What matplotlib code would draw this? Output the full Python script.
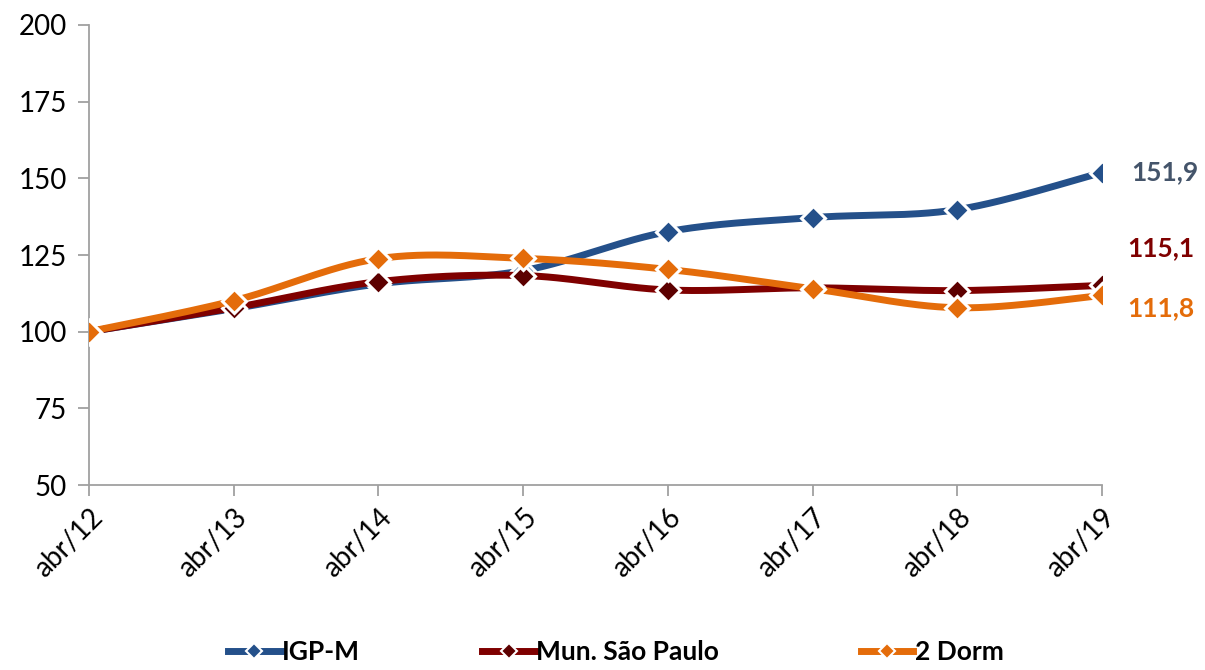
import numpy as np
import matplotlib
matplotlib.use("Agg")
import matplotlib.pyplot as plt
from matplotlib.lines import Line2D

categories = ["abr/12", "abr/13", "abr/14", "abr/15", "abr/16", "abr/17", "abr/18", "abr/19"]
igpm = [100.0, 107.5, 115.6, 119.9, 132.6, 137.2, 139.8, 151.9]
mun_sp = [100.0, 107.8, 116.3, 118.3, 113.6, 114.3, 113.4, 115.1]
dorm2 = [100.0, 110.1, 123.8, 123.9, 120.3, 114.0, 107.8, 111.8]
series_names = ["IGP-M", "Mun. São Paulo", "2 Dorm"]
end_labels = ["151,9", "115,1", "111,8"]

colors = ["#24508A", "#7F0000", "#E46C0A"]
marker_colors = ["#24508A", "#5C0000", "#E46C0A"]
label_colors = ["#44546A", "#7F0000", "#E46C0A"]
label_offsets = [(21, 0), (18, 27), (18, -9)]   # points offset of end labels
legend_x = [0.187, 0.398, 0.712]

plt.rcParams['font.family'] = ['Lato', 'DejaVu Sans']


def smooth(x, y, n=30):
    # Catmull-Rom style smoothing between data points (visual only)
    x = np.asarray(x, float)
    y = np.asarray(y, float)
    xs, ys = [], []
    for i in range(len(x) - 1):
        p0 = (x[i - 1], y[i - 1]) if i > 0 else (x[i], y[i])
        p1 = (x[i], y[i])
        p2 = (x[i + 1], y[i + 1])
        p3 = (x[i + 2], y[i + 2]) if i + 2 < len(x) else (x[i + 1], y[i + 1])
        t = 0.5 / 3.0
        c1 = (p1[0] + (p2[0] - p0[0]) * t, p1[1] + (p2[1] - p0[1]) * t)
        c2 = (p2[0] - (p3[0] - p1[0]) * t, p2[1] - (p3[1] - p1[1]) * t)
        tt = np.linspace(0, 1, n, endpoint=(i == len(x) - 2))
        bx = (1 - tt) ** 3 * p1[0] + 3 * (1 - tt) ** 2 * tt * c1[0] + 3 * (1 - tt) * tt ** 2 * c2[0] + tt ** 3 * p2[0]
        by = (1 - tt) ** 3 * p1[1] + 3 * (1 - tt) ** 2 * tt * c1[1] + 3 * (1 - tt) * tt ** 2 * c2[1] + tt ** 3 * p2[1]
        xs.extend(bx)
        ys.extend(by)
    return np.array(xs), np.array(ys)


fig = plt.figure(figsize=(12.05, 6.70), dpi=100)
ax = fig.add_axes([0.0739, 0.2761, 0.8406, 0.6866])

x = np.arange(len(categories))
data = [igpm, mun_sp, dorm2]
for i, (vals, c, mc) in enumerate(zip(data, colors, marker_colors)):
    sx, sy = smooth(x, vals)
    ax.plot(sx, sy, color=c, lw=5.0, solid_capstyle='round', zorder=2 + i * 2)
    ax.plot(x, vals, ls='none', marker='D', ms=12, mfc=mc, mec='white', mew=2.2, zorder=3 + i * 2)
    ax.annotate(end_labels[i], xy=(x[-1], vals[-1]), xytext=label_offsets[i], textcoords='offset points',
                color=label_colors[i], fontsize=19, fontweight='bold', ha='left', va='center',
                annotation_clip=False)

ax.set_xlim(0, len(categories) - 1)
ax.set_ylim(50, 200)
ax.set_yticks([50, 75, 100, 125, 150, 175, 200])
ax.set_xticks(x)
ax.set_xticklabels(categories, rotation=45, ha='right', rotation_mode='anchor')
ax.tick_params(axis='both', labelsize=20, color='#A0A0A0', length=8, width=1.3, direction='out')
ax.tick_params(axis='x', pad=6)
ax.tick_params(axis='y', pad=8)
for s in ['top', 'right']:
    ax.spines[s].set_visible(False)
for s in ['left', 'bottom']:
    ax.spines[s].set_color('#A0A0A0')
    ax.spines[s].set_linewidth(1.3)
for spine in ax.spines.values():
    spine.set_zorder(1)

for i, (c, mc) in enumerate(zip(colors, marker_colors)):
    h = Line2D([0], [0], color=c, lw=5.0, marker='D', ms=8, mfc=mc, mec='white', mew=1.5)
    leg = fig.legend([h], [series_names[i]], loc='center left', bbox_to_anchor=(legend_x[i], 0.027),
                     frameon=False, handlelength=2.0, handletextpad=0.05, borderaxespad=0,
                     borderpad=0.1, prop={'weight': 'bold', 'size': 19})

fig.savefig("out.png", dpi=100)
